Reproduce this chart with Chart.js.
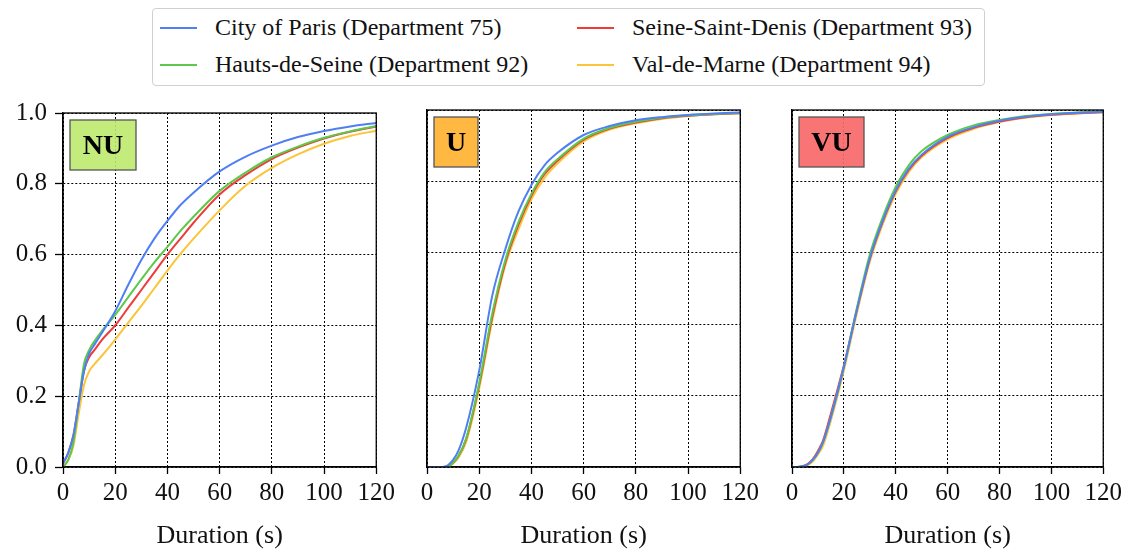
<!DOCTYPE html>
<html>
<head>
<meta charset="utf-8">
<script src="https://cdn.jsdelivr.net/npm/chart.js@4"></script>
<style>
  html, body { margin:0; padding:0; background:#fff; overflow:hidden; }
  #wrap { position:relative; width:1126px; height:552px; font-family:"Liberation Serif", "DejaVu Serif", serif; }
  canvas { position:absolute; }
  #legend { position:absolute; left:152px; top:8px; width:833px; height:78px; border:1px solid #d0d0d0; border-radius:4px; box-sizing:border-box; }
  .item { position:absolute; font-size:24px; color:#111; white-space:nowrap; line-height:26px; }
  .swatch { position:absolute; width:37px; height:2px; }
</style>
</head>
<body>
<div id="wrap">
  <div id="legend"></div>
  <canvas id="c1"></canvas>
  <canvas id="c2"></canvas>
  <canvas id="c3"></canvas>
</div>
<script>
// ---------- data ----------
const durations = [0,2,4,6,8,10,12,15,20,25,30,35,40,45,50,60,70,80,90,100,110,120];
const seriesNames = ["City of Paris (Department 75)", "Hauts-de-Seine (Department 92)", "Seine-Saint-Denis (Department 93)", "Val-de-Marne (Department 94)"];
const seriesColors = ["#4f7ff2", "#5cc94a", "#ee3b3b", "#fbc53a"];
const panelNames = ["NU", "U", "VU"];
const panelColors = ["rgba(190,234,110,0.9)", "rgba(255,178,50,0.92)", "rgba(248,104,104,0.92)"];
const xTicks = [0,20,40,60,80,100,120];
const yTicks = [0,0.2,0.4,0.6,0.8,1.0];

// NU panel
const nuParis = [0.01,0.04,0.09,0.18,0.27,0.32,0.345,0.38,0.44,0.515,0.585,0.645,0.695,0.74,0.775,0.835,0.877,0.908,0.932,0.949,0.962,0.972];
const nuHauts = [0.0,0.02,0.07,0.18,0.29,0.33,0.355,0.385,0.43,0.48,0.53,0.578,0.622,0.667,0.707,0.78,0.832,0.875,0.905,0.93,0.948,0.963];
const nuSeine = [0.01,0.04,0.09,0.18,0.27,0.31,0.33,0.36,0.40,0.45,0.50,0.55,0.60,0.645,0.69,0.77,0.825,0.87,0.902,0.928,0.947,0.962];
const nuVal   = [0.0,0.02,0.06,0.15,0.23,0.27,0.29,0.315,0.36,0.408,0.455,0.505,0.555,0.602,0.645,0.725,0.795,0.845,0.883,0.913,0.935,0.95];
// U panel
const uParis = [0,0,0,0,0.005,0.02,0.045,0.11,0.27,0.48,0.61,0.715,0.79,0.845,0.88,0.93,0.955,0.971,0.98,0.986,0.99,0.993];
const uHauts = [0,0,0,0,0.002,0.012,0.03,0.08,0.235,0.43,0.58,0.685,0.765,0.825,0.862,0.92,0.95,0.967,0.978,0.985,0.989,0.992];
const uSeine = [0,0,0,0,0.002,0.012,0.03,0.078,0.23,0.42,0.572,0.678,0.76,0.82,0.858,0.917,0.948,0.965,0.977,0.984,0.988,0.991];
const uVal   = [0,0,0,0,0,0.01,0.025,0.07,0.22,0.41,0.565,0.665,0.75,0.81,0.85,0.912,0.945,0.963,0.975,0.983,0.988,0.991];
// VU panel
const vuParis = [0,0,0.002,0.007,0.02,0.04,0.07,0.14,0.28,0.44,0.585,0.69,0.775,0.835,0.875,0.925,0.952,0.97,0.981,0.988,0.992,0.995];
const vuHauts = [0,0,0.002,0.007,0.02,0.04,0.07,0.14,0.28,0.445,0.595,0.70,0.785,0.845,0.885,0.93,0.957,0.972,0.983,0.989,0.993,0.996];
const vuSeine = [0,0,0.002,0.008,0.022,0.045,0.075,0.15,0.285,0.44,0.583,0.688,0.772,0.832,0.872,0.922,0.95,0.968,0.98,0.987,0.991,0.994];
const vuVal   = [0,0,0.001,0.005,0.015,0.035,0.06,0.13,0.27,0.43,0.575,0.68,0.765,0.826,0.868,0.918,0.947,0.966,0.978,0.986,0.99,0.994];

const panelData = [
  [nuParis, nuHauts, nuSeine, nuVal],
  [uParis, uHauts, uSeine, uVal],
  [vuParis, vuHauts, vuSeine, vuVal]
];

// ---------- legend (HTML text) ----------
const legend = document.getElementById('legend');
const legPos = [[7,19],[7,56],[424,19],[424,56]];
seriesNames.forEach((n,i)=>{
  const [lx, cy] = legPos[i];
  const sw = document.createElement('div');
  sw.className='swatch'; sw.style.left=lx+'px'; sw.style.top=(cy-1)+'px'; sw.style.background=seriesColors[i];
  legend.appendChild(sw);
  const t = document.createElement('div');
  t.className='item'; t.textContent=n; t.style.left=(lx+55)+'px'; t.style.top=(cy-14)+'px';
  legend.appendChild(t);
});

// ---------- plugins ----------
const framePlugin = {
  id:'frame',
  afterDraw(chart){
    const {ctx, chartArea:a} = chart;
    ctx.save();
    ctx.strokeStyle='#000'; ctx.lineWidth=1.3;
    ctx.strokeRect(a.left, a.top, a.right-a.left, a.bottom-a.top);
    ctx.restore();
  }
};
const FONT = '"Liberation Serif", "DejaVu Serif", serif';
const labelPlugin = {
  id:'panelLabel',
  afterDatasetsDraw(chart, args, opts){
    const {ctx, chartArea:a} = chart;
    ctx.save();
    ctx.font = 'bold 28px ' + FONT;
    const w = opts.width;
    const x = a.left+7, y = a.top+7, h = 50;
    ctx.fillStyle = opts.color;
    ctx.fillRect(x,y,w,h);
    ctx.strokeStyle='#555'; ctx.lineWidth=1.3;
    ctx.strokeRect(x,y,w,h);
    ctx.fillStyle='#000'; ctx.textAlign='center'; ctx.textBaseline='middle';
    ctx.fillText(opts.text, x+w/2, y+h/2+2);
    ctx.restore();
  }
};

const geom = [
  {left:0,   width:399, yW:63},
  {left:400, width:363, yW:27},
  {left:767, width:359, yW:25}
];
const labelWidths = [66, 44, 65];

panelData.forEach((sets, p)=>{
  const cv = document.getElementById('c'+(p+1));
  const g = geom[p];
  cv.style.left = g.left+'px'; cv.style.top='90px';
  cv.width = g.width; cv.height = 462;
  cv.style.width = g.width+'px'; cv.style.height='462px';
  const rightPad = g.width - g.yW - 314;
  new Chart(cv, {
    type:'line',
    data:{
      datasets: sets.map((vals,i)=>({
        label: seriesNames[i],
        data: durations.map((d,k)=>({x:d, y:vals[k]})),
        borderColor: seriesColors[i],
        backgroundColor: seriesColors[i],
        borderWidth: 2,
        pointRadius: 0,
        cubicInterpolationMode:'monotone',
        fill:false
      }))
    },
    options:{
      responsive:false, animation:false, maintainAspectRatio:false,
      layout:{ padding:{ top:20, right:rightPad, bottom:0, left:0 } },
      plugins:{
        legend:{display:false}, tooltip:{enabled:false},
        panelLabel:{ text: panelNames[p], color: panelColors[p], width: labelWidths[p] }
      },
      scales:{
        x:{
          type:'linear', min:0, max:120,
          afterBuildTicks: s => { s.ticks = xTicks.map(v=>({value:v})); },
          afterFit: s => { s.height = 85; },
          ticks:{ font:{family:FONT, size:25}, color:'#111', padding:4, maxRotation:0, autoSkip:false },
          grid:{ color:'#000', lineWidth:1, drawTicks:true, tickLength:7, tickColor:'#000', tickWidth:1.3 },
          border:{ display:true, color:'#000', width:1.3, dash:[2,2] },
          title:{ display:true, text:'Duration (s)', font:{family:FONT, size:26, lineHeight:1.2}, color:'#111', padding:{top:0,bottom:0} }
        },
        y:{
          type:'linear', min:0, max:1,
          afterBuildTicks: s => { s.ticks = yTicks.map(v=>({value:v})); },
          afterFit: s => { s.width = g.yW; },
          ticks:{ display: p===0, font:{family:FONT, size:25}, color:'#111', padding:8, callback: v => Number(v).toFixed(1) },
          grid:{ color:'#000', lineWidth:1, drawTicks: p===0, tickLength:8, tickColor:'#000', tickWidth:1.3 },
          border:{ display:true, color:'#000', width:1.3, dash:[2,2] }
        }
      }
    },
    plugins:[labelPlugin, framePlugin]
  });
});
</script>
</body>
</html>
